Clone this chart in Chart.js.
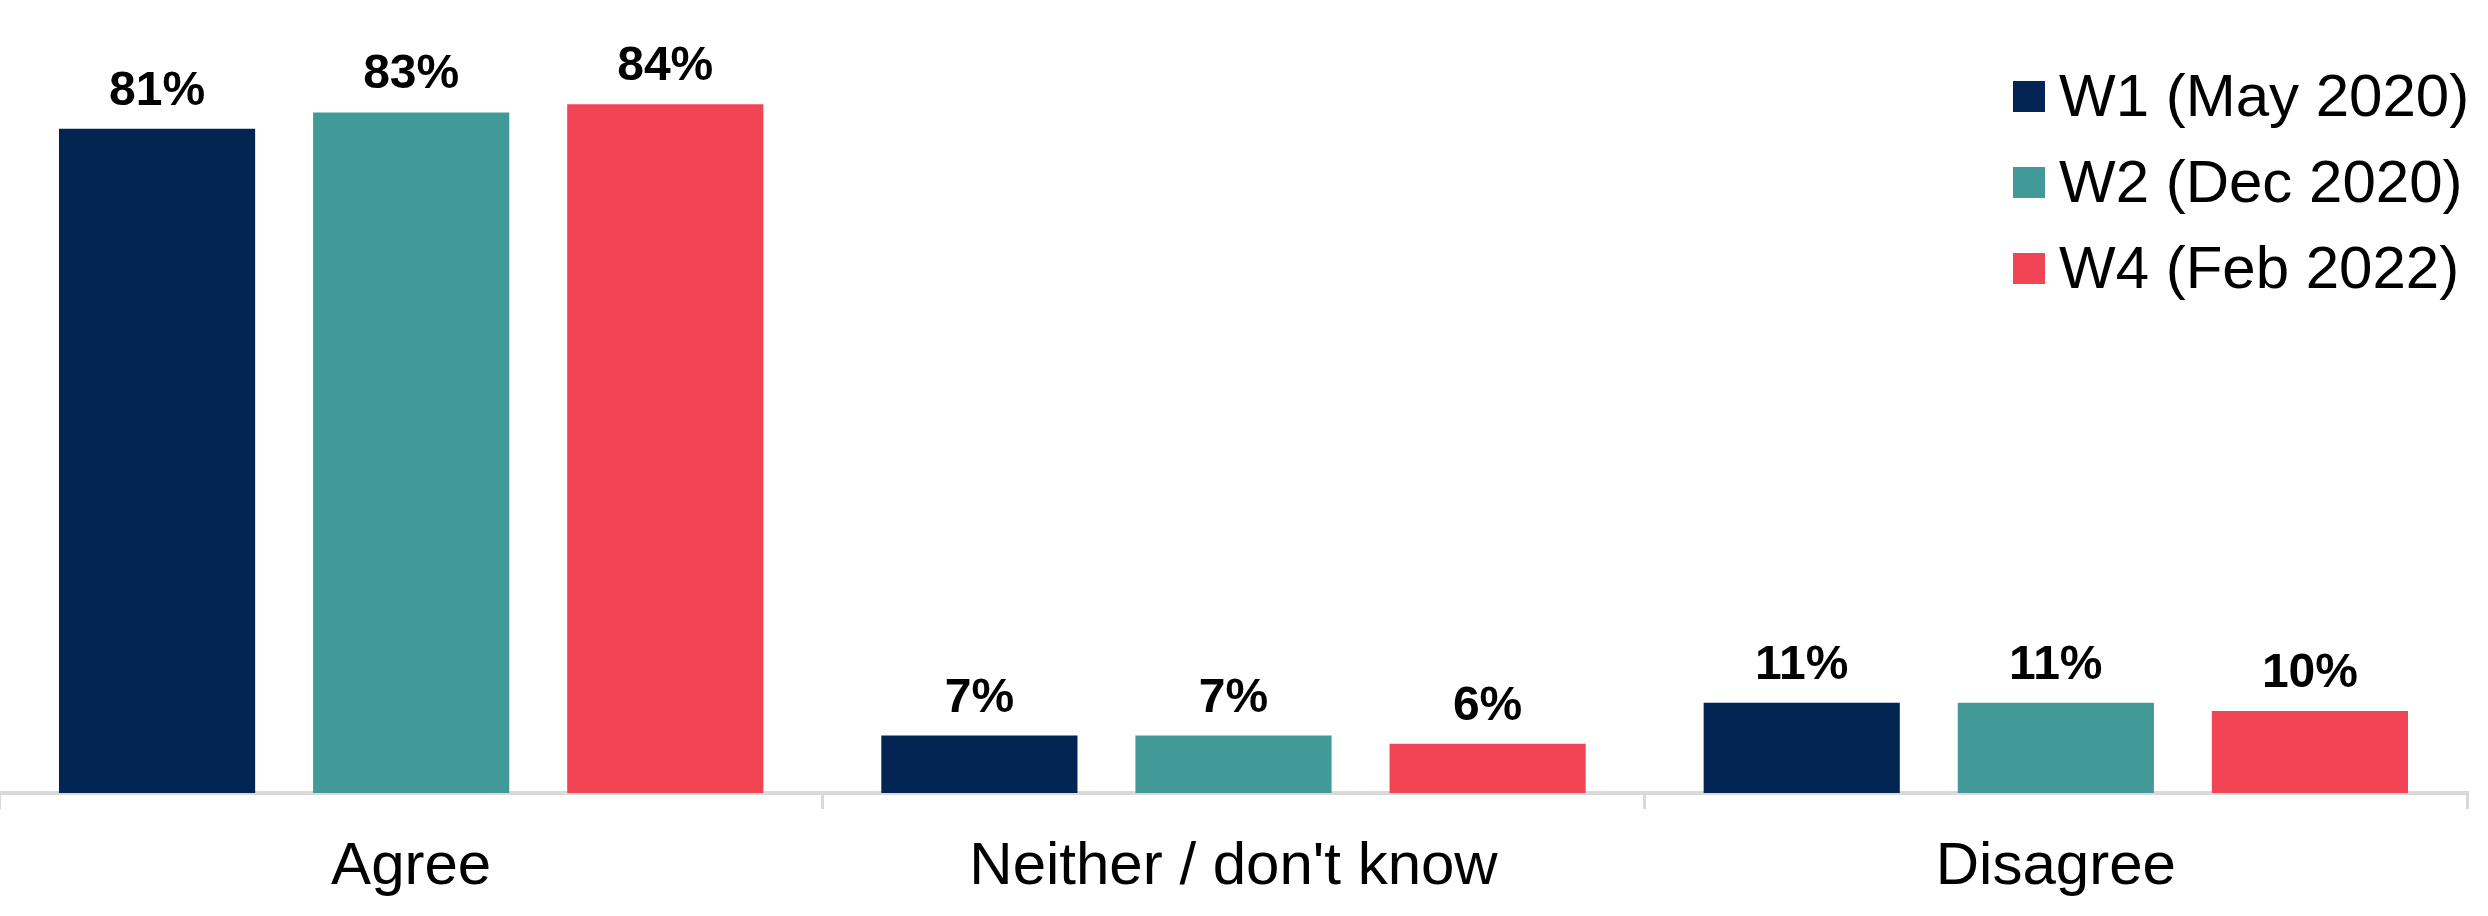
<!DOCTYPE html>
<html>
<head>
<meta charset="utf-8">
<script src="https://cdn.jsdelivr.net/npm/chart.js@4"></script>
<style>
  html, body { margin: 0; padding: 0; background: #ffffff; }
  #wrap { width: 2488px; height: 916px; }
</style>
</head>
<body>
<div id="wrap"><canvas id="chart" width="2488" height="916"></canvas></div>
<script>
/* ---- Données ---- */
const categories = ['Agree', "Neither / don't know", 'Disagree'];
const waveLabels = ['W1 (May 2020)', 'W2 (Dec 2020)', 'W4 (Feb 2022)'];
const w1Values = [81, 7, 11];
const w2Values = [83, 7, 11];
const w4Values = [84, 6, 10];

const COLORS = ['#022554', '#429a98', '#f14454'];
const FONT = '"Liberation Sans", Arial, sans-serif';

/* Étiquettes de valeur au-dessus des barres */
const valueLabels = {
  id: 'valueLabels',
  afterDatasetsDraw(chart) {
    const ctx = chart.ctx;
    ctx.save();
    ctx.font = 'bold 48px ' + FONT;
    ctx.fillStyle = '#000000';
    ctx.textAlign = 'center';
    ctx.textBaseline = 'alphabetic';
    chart.data.datasets.forEach((ds, i) => {
      chart.getDatasetMeta(i).data.forEach((bar, j) => {
        ctx.fillText(ds.data[j] + '%', bar.x, bar.y - 24);
      });
    });
    ctx.restore();
  }
};

/* Légende verticale en haut à droite */
const cornerLegend = {
  id: 'cornerLegend',
  afterDraw(chart) {
    const ctx = chart.ctx;
    ctx.save();
    ctx.font = '60px ' + FONT;
    ctx.textBaseline = 'alphabetic';
    const textX = 2059;
    chart.data.datasets.forEach((ds, i) => {
      const base = 116 + i * 86;
      ctx.fillStyle = ds.backgroundColor;
      ctx.fillRect(textX - 46, base - 35, 32, 31);
      ctx.fillStyle = '#000000';
      ctx.fillText(ds.label, textX, base);
    });
    ctx.restore();
  }
};

new Chart(document.getElementById('chart'), {
  type: 'bar',
  data: {
    labels: categories,
    datasets: [
      { label: waveLabels[0], data: w1Values, backgroundColor: COLORS[0] },
      { label: waveLabels[1], data: w2Values, backgroundColor: COLORS[1] },
      { label: waveLabels[2], data: w4Values, backgroundColor: COLORS[2] },
    ],
  },
  options: {
    responsive: false,
    animation: false,
    devicePixelRatio: 1,
    categoryPercentage: 0.927,
    barPercentage: 0.772,
    layout: { padding: { top: 55, bottom: -9, left: 0, right: 21 } },
    plugins: {
      legend: { display: false },
      tooltip: { enabled: false },
    },
    scales: {
      x: {
        grid: {
          drawOnChartArea: false,
          drawTicks: true,
          tickLength: 16,
          color: '#d9d9d9',
          lineWidth: 3,
        },
        border: { display: true, color: '#d9d9d9', width: 4 },
        ticks: {
          color: '#000000',
          padding: 22,
          font: { family: FONT, size: 60 },
        },
      },
      y: {
        display: false,
        min: 0,
        max: 90,
      },
    },
  },
  plugins: [valueLabels, cornerLegend],
});
</script>
</body>
</html>
